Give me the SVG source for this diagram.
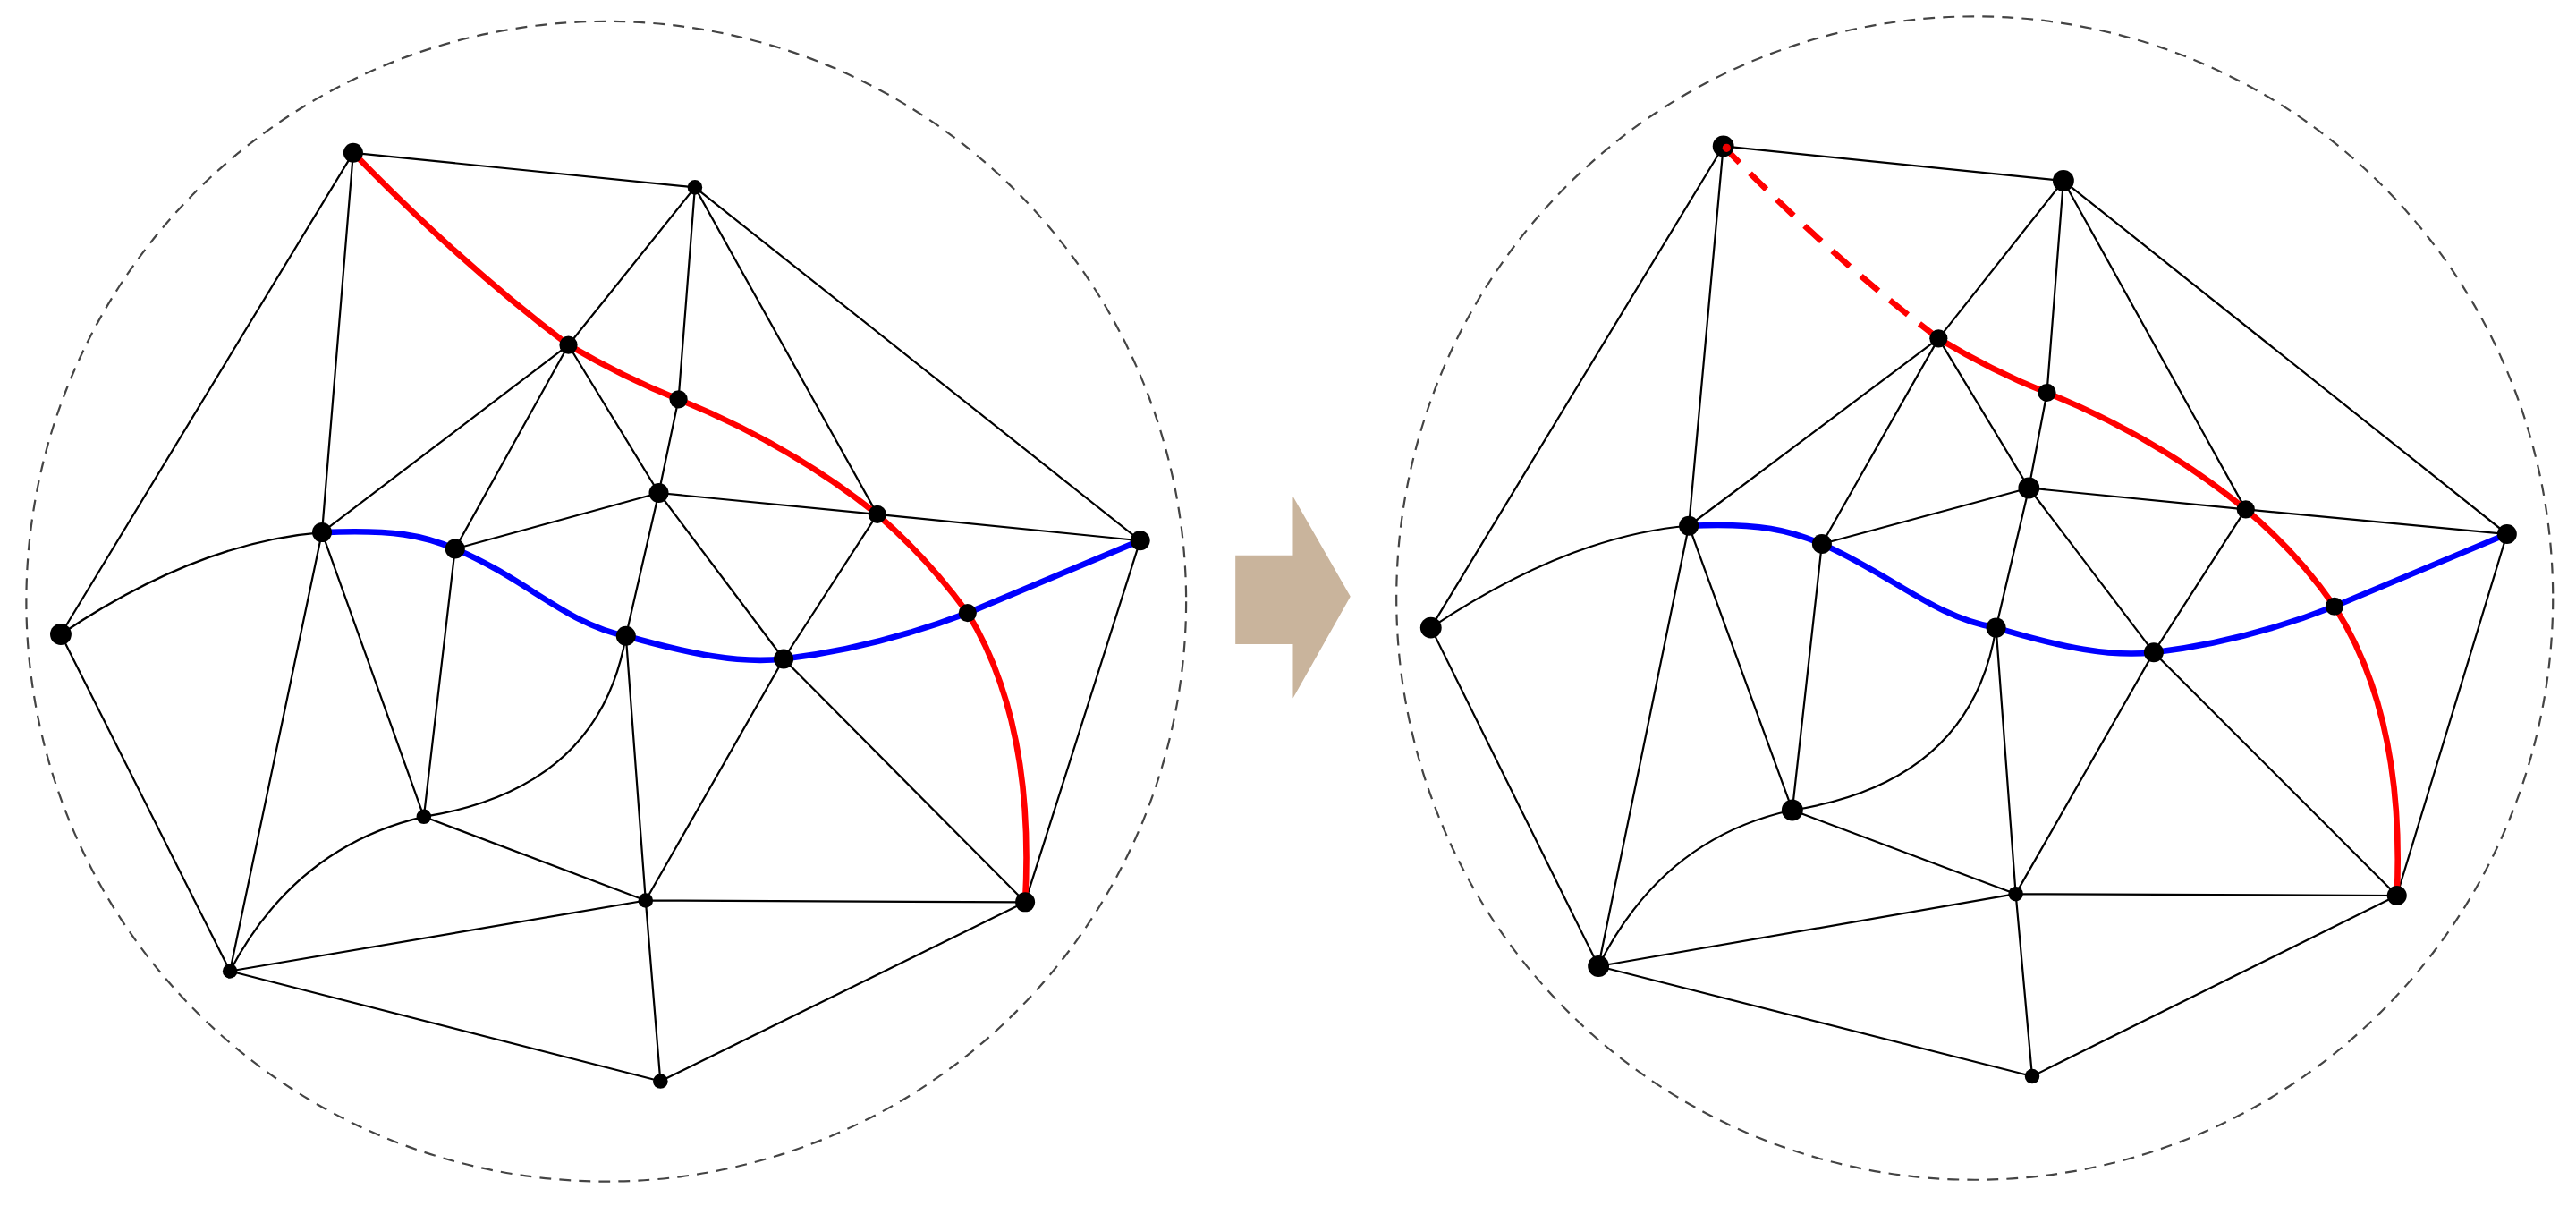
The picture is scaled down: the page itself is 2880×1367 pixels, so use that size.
<svg xmlns="http://www.w3.org/2000/svg" width="2880" height="1367" viewBox="0 0 2880 1367">
<style>
.bd{fill:none;stroke:#444;stroke-width:1.2;stroke-dasharray:7,5}
.e{fill:none;stroke:#000;stroke-width:1.2}
.r{fill:none;stroke:#f00;stroke-width:3.6}
.b{fill:none;stroke:#00f;stroke-width:3.6}
.n{fill:#000}
</style>
<rect width="2880" height="1367" fill="#fff"/>
<g transform="scale(1.8367)">
<g id="left">
<ellipse class="bd" cx="369" cy="366" rx="353" ry="353"/>
<g id="left-edges">
<path class="e" d="M215,93L423,114M215,93L37,386M215,93L196,324M423,114L346,210M423,114L413,243L401,300M423,114L534,313M423,114L694,329M346,210L196,324M346,210L277,334M346,210L401,300M401,300L277,334M401,300L534,313M401,300L477,401M401,300L381,387M534,313L694,329M534,313L477,401M694,329L624,549M196,324L258,497M196,324L140,591M277,334L258,497M381,387L393,548M477,401L393,548M477,401L624,549M258,497L393,548M393,548L624,549M393,548L140,591M393,548L402,658M140,591L402,658M140,591L37,386M402,658L624,549M37,386Q120,330 196,324M381,387Q365,480 258,497M140,591Q180,515 258,497"/>
<path class="r" d="M215,93Q280,160 346,210Q380,230 413,243Q480,270 534,313Q565,340 589,373Q630,440 624,549"/>
<path class="b" d="M196,324C240,322 258,326 277,334C320,352 345,380 381,387C420,398 450,404 477,401C520,396 560,384 589,373L694,329"/>
</g>
<g id="left-nodes">
<circle class="n" cx="215" cy="93" r="6"/><circle class="n" cx="423" cy="114" r="4.5"/><circle class="n" cx="346" cy="210" r="5.5"/><circle class="n" cx="413" cy="243" r="5.5"/><circle class="n" cx="401" cy="300" r="6"/><circle class="n" cx="534" cy="313" r="5.5"/><circle class="n" cx="694" cy="329" r="6"/><circle class="n" cx="196" cy="324" r="6"/><circle class="n" cx="277" cy="334" r="6"/><circle class="n" cx="381" cy="387" r="6"/><circle class="n" cx="477" cy="401" r="6"/><circle class="n" cx="589" cy="373" r="5.5"/><circle class="n" cx="37" cy="386" r="6.5"/><circle class="n" cx="258" cy="497" r="4.5"/><circle class="n" cx="393" cy="548" r="4.5"/><circle class="n" cx="624" cy="549" r="6"/><circle class="n" cx="140" cy="591" r="4.5"/><circle class="n" cx="402" cy="658" r="4.5"/>
</g>
</g>
<g id="arrow"><polygon points="752,338 787,338 787,302 822,363 787,425 787,392 752,392" fill="#c9b49c"/></g>
<g id="right">
<ellipse class="bd" cx="1202" cy="364" rx="352" ry="354"/>
<g id="right-edges">
<path class="e" d="M1049,89L1256,110M1049,89L871,382M1049,89L1028,320M1256,110L1180,206M1256,110L1246,239L1235,297M1256,110L1367,310M1256,110L1526,325M1180,206L1028,320M1180,206L1109,331M1180,206L1235,297M1235,297L1109,331M1235,297L1367,310M1235,297L1311,397M1235,297L1215,382M1367,310L1526,325M1367,310L1311,397M1526,325L1459,545M1028,320L1091,493M1028,320L973,588M1109,331L1091,493M1215,382L1227,544M1311,397L1227,544M1311,397L1459,545M1091,493L1227,544M1227,544L1459,545M1227,544L973,588M1227,544L1237,655M973,588L1237,655M973,588L871,382M1237,655L1459,545M871,382Q955,326 1028,320M1215,382Q1200,476 1091,493M973,588Q1012,510 1091,493"/>
<path class="r" stroke-dasharray="14,9" d="M1049,89Q1114,156 1180,206"/>
<path class="r" d="M1180,206Q1213,226 1246,239Q1313,266 1367,310Q1398,336 1421,369Q1464,436 1459,545"/>
<path class="b" d="M1028,320C1072,318 1090,323 1109,331C1152,350 1178,376 1215,382C1255,394 1285,400 1311,397C1354,392 1393,380 1421,369L1526,325"/>
</g>
<g id="right-nodes">
<circle class="n" cx="1049" cy="89" r="6.5"/><circle fill="#e00" cx="1051" cy="90" r="2.5"/><circle class="n" cx="1256" cy="110" r="6.5"/><circle class="n" cx="1180" cy="206" r="5.5"/><circle class="n" cx="1246" cy="239" r="5.5"/><circle class="n" cx="1235" cy="297" r="6.5"/><circle class="n" cx="1367" cy="310" r="5.5"/><circle class="n" cx="1526" cy="325" r="6"/><circle class="n" cx="1028" cy="320" r="6"/><circle class="n" cx="1109" cy="331" r="6"/><circle class="n" cx="1215" cy="382" r="6"/><circle class="n" cx="1311" cy="397" r="6"/><circle class="n" cx="1421" cy="369" r="5.5"/><circle class="n" cx="871" cy="382" r="6.5"/><circle class="n" cx="1091" cy="493" r="6.5"/><circle class="n" cx="1227" cy="544" r="4.5"/><circle class="n" cx="1459" cy="545" r="6"/><circle class="n" cx="973" cy="588" r="6.5"/><circle class="n" cx="1237" cy="655" r="4.5"/>
</g>
</g>
</g>
</svg>
